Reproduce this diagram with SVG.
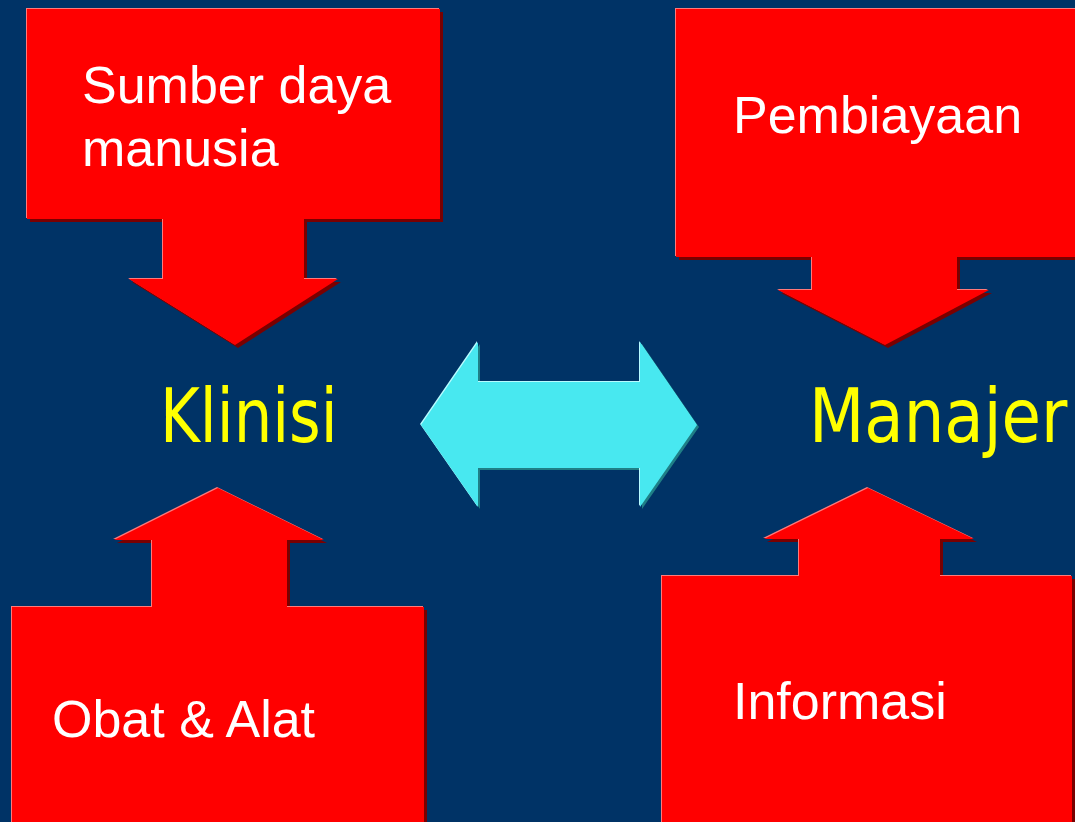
<svg xmlns="http://www.w3.org/2000/svg" width="1075" height="822" viewBox="0 0 1075 822">
<style>
.sh{fill:#7a0000}
.hl{fill:#ff7a7a}
.box{fill:#ff0000}
.csh{fill:#1f7f86}
.chl{fill:#b8fbff}
.cy{fill:#48e8f0}
.lbl{font-family:"Liberation Sans",Arial,sans-serif;font-size:52px;fill:#ffffff}
.role{font-family:"DejaVu Sans",Verdana,sans-serif;font-size:75px;fill:#ffff00}
</style>
<defs>
<polygon id="pTL" points="27,9 440,9 440,219 304,219 304,279 338,279 235,345 129,279 163,279 163,219 27,219"/>
<polygon id="pTR" points="676,9 1090,9 1090,257 957,257 957,290 989,290 885,345 778,290 812,290 812,257 676,257"/>
<polygon id="pBL" points="218,488 324,540 287,540 287,607 424,607 424,840 12,840 12,607 152,607 152,540 114,540"/>
<polygon id="pBR" points="868,488 974,539 940,539 940,576 1072,576 1072,840 662,840 662,576 799,576 799,539 764,539"/>
<polygon id="pC" points="421,425 478,342 478,382 640,382 640,342 697,425 640,507 640,468 478,468 478,507"/>
</defs>
<rect x="0" y="0" width="1075" height="822" fill="#003366"/>
<g id="connectors">
<g id="double-arrow">
<use href="#pC" class="csh" transform="translate(2,2)"/>
<use href="#pC" class="chl" transform="translate(-1,-1)"/>
<use href="#pC" class="cy"/>
</g>
</g>
<g id="node-sdm">
<use href="#pTL" class="sh" transform="translate(3,3)"/>
<use href="#pTL" class="hl" transform="translate(-1,-1)"/>
<use href="#pTL" class="box"/>
<text class="lbl" x="82" y="103">Sumber daya</text>
<text class="lbl" x="82" y="166">manusia</text>
</g>
<g id="node-pembiayaan">
<use href="#pTR" class="sh" transform="translate(3,3)"/>
<use href="#pTR" class="hl" transform="translate(-1,-1)"/>
<use href="#pTR" class="box"/>
<text class="lbl" x="733" y="133">Pembiayaan</text>
</g>
<g id="node-obat">
<use href="#pBL" class="sh" transform="translate(3,3)"/>
<use href="#pBL" class="hl" transform="translate(-1,-1)"/>
<use href="#pBL" class="box"/>
<text class="lbl" x="52" y="737">Obat &amp; Alat</text>
</g>
<g id="node-informasi">
<use href="#pBR" class="sh" transform="translate(3,3)"/>
<use href="#pBR" class="hl" transform="translate(-1,-1)"/>
<use href="#pBR" class="box"/>
<text class="lbl" x="733" y="719">Informasi</text>
</g>
<g id="node-klinisi">
<text class="role" transform="translate(160,442) scale(0.85,1)" x="0" y="0" textLength="209" lengthAdjust="spacingAndGlyphs">Klinisi</text>
</g>
<g id="node-manajer">
<text class="role" transform="translate(809,442) scale(0.85,1)" x="0" y="0" textLength="304" lengthAdjust="spacingAndGlyphs">Manajer</text>
</g>
</svg>
